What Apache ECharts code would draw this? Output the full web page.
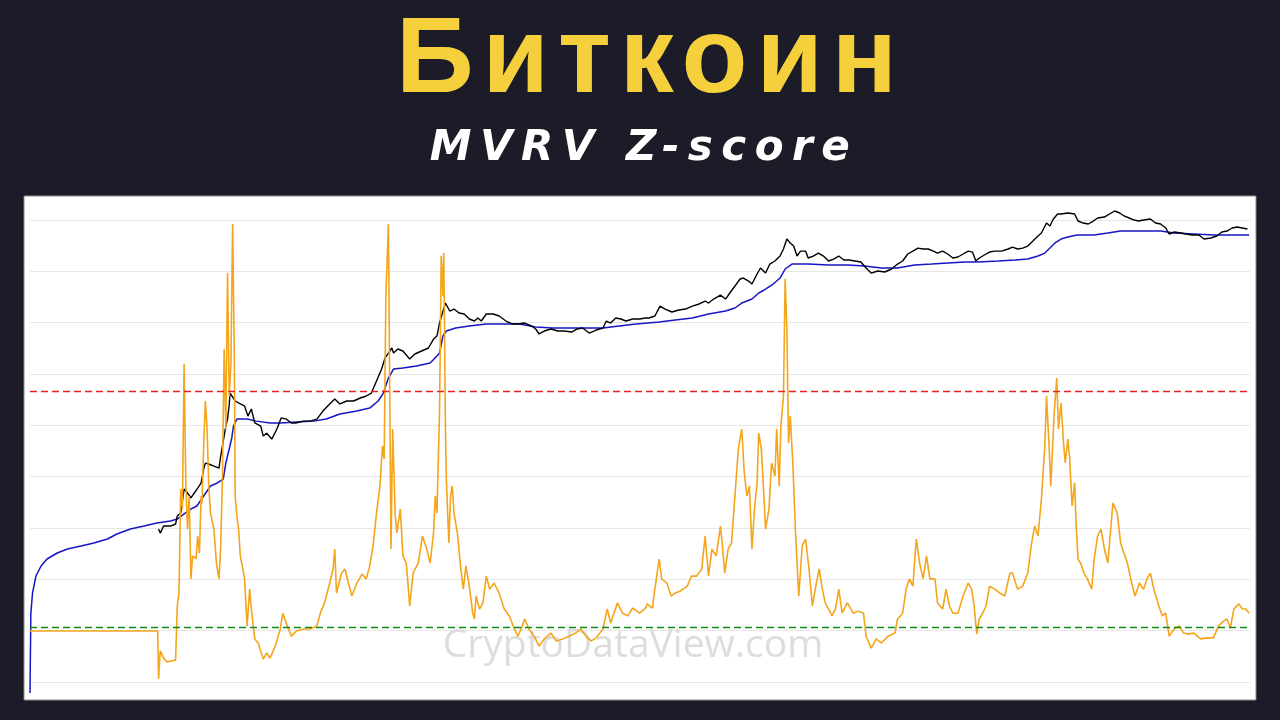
<!DOCTYPE html>
<html>
<head>
<meta charset="utf-8">
<title>Биткоин MVRV Z-score</title>
<script src="https://cdn.jsdelivr.net/npm/echarts@6/dist/echarts.min.js"></script>
<style>
  body { margin: 0; background: #1b1c27; }
  .wrap { position: relative; width: 1280px; height: 720px; overflow: hidden; }
  #chart { position: absolute; left: 0; top: 0; width: 1280px; height: 720px; }
  .head-title {
    position: absolute; left: 0; top: 1px; width: 1280px; text-align: center;
    font-family: "Liberation Sans", Arial, sans-serif; font-weight: bold;
    font-size: 108px; line-height: 108px; letter-spacing: 9px; padding-left: 11px;
    color: #f5d03c;
  }
  .head-sub {
    position: absolute; left: 0; top: 125px; width: 1280px; text-align: center;
    font-family: "DejaVu Sans", Verdana, sans-serif; font-weight: bold; font-style: italic;
    font-size: 42px; line-height: 42px; letter-spacing: 8.5px; padding-left: 4px;
    color: #ffffff;
  }
</style>
</head>
<body>
<div class="wrap">
  <div id="chart"></div>
  <div class="head-title">Биткоин</div>
  <div class="head-sub">MVRV Z-score</div>
</div>
<script>
// MVRV Z-score (decimal year -> z)
const zYears = [
  2009.09, 2010.59, 2010.60, 2010.62, 2010.66, 2010.70, 2010.76, 2010.80, 2010.82, 2010.84,
  2010.86, 2010.88, 2010.90, 2010.92, 2010.94, 2010.96, 2010.98, 2011.00, 2011.04, 2011.06,
  2011.08, 2011.10, 2011.11, 2011.13, 2011.15, 2011.17, 2011.19, 2011.21, 2011.25, 2011.28,
  2011.31, 2011.33, 2011.35, 2011.37, 2011.39, 2011.41, 2011.43, 2011.45, 2011.47, 2011.49,
  2011.50, 2011.52, 2011.54, 2011.56, 2011.59, 2011.61, 2011.64, 2011.67, 2011.69, 2011.73,
  2011.77, 2011.83, 2011.87, 2011.91, 2011.97, 2012.03, 2012.06, 2012.10, 2012.16, 2012.22,
  2012.30, 2012.38, 2012.46, 2012.50, 2012.55, 2012.61, 2012.65, 2012.67, 2012.69, 2012.75,
  2012.79, 2012.83, 2012.87, 2012.93, 2012.99, 2013.04, 2013.08, 2013.12, 2013.16, 2013.20,
  2013.23, 2013.25, 2013.27, 2013.30, 2013.33, 2013.35, 2013.38, 2013.40, 2013.44, 2013.47,
  2013.51, 2013.55, 2013.59, 2013.65, 2013.70, 2013.75, 2013.79, 2013.83, 2013.85, 2013.87,
  2013.90, 2013.92, 2013.94, 2013.95, 2013.97, 2013.98, 2014.01, 2014.03, 2014.05, 2014.07,
  2014.11, 2014.15, 2014.18, 2014.21, 2014.25, 2014.29, 2014.31, 2014.33, 2014.37, 2014.41,
  2014.45, 2014.49, 2014.54, 2014.60, 2014.66, 2014.72, 2014.78, 2014.82, 2014.86, 2014.90,
  2014.95, 2015.01, 2015.07, 2015.13, 2015.21, 2015.27, 2015.35, 2015.42, 2015.50, 2015.56,
  2015.62, 2015.68, 2015.74, 2015.82, 2015.87, 2015.91, 2015.99, 2016.05, 2016.11, 2016.17,
  2016.25, 2016.32, 2016.34, 2016.40, 2016.43, 2016.48, 2016.51, 2016.57, 2016.62, 2016.67,
  2016.73, 2016.81, 2016.86, 2016.92, 2016.98, 2017.02, 2017.06, 2017.10, 2017.15, 2017.20,
  2017.22, 2017.25, 2017.29, 2017.33, 2017.37, 2017.41, 2017.45, 2017.48, 2017.51, 2017.54,
  2017.57, 2017.60, 2017.63, 2017.65, 2017.68, 2017.71, 2017.73, 2017.77, 2017.80, 2017.84,
  2017.86, 2017.89, 2017.91, 2017.94, 2017.96, 2017.98, 2018.00, 2018.02, 2018.05, 2018.08,
  2018.10, 2018.12, 2018.16, 2018.20, 2018.24, 2018.28, 2018.32, 2018.36, 2018.39, 2018.43,
  2018.47, 2018.51, 2018.55, 2018.59, 2018.63, 2018.69, 2018.76, 2018.82, 2018.88, 2018.91,
  2018.97, 2019.03, 2019.09, 2019.17, 2019.25, 2019.28, 2019.34, 2019.38, 2019.42, 2019.46,
  2019.50, 2019.54, 2019.58, 2019.62, 2019.66, 2019.72, 2019.75, 2019.81, 2019.85, 2019.89,
  2019.93, 2019.99, 2020.05, 2020.11, 2020.15, 2020.18, 2020.21, 2020.24, 2020.28, 2020.32,
  2020.36, 2020.42, 2020.48, 2020.54, 2020.60, 2020.63, 2020.69, 2020.75, 2020.81, 2020.85,
  2020.89, 2020.93, 2020.97, 2021.01, 2021.03, 2021.06, 2021.08, 2021.12, 2021.15, 2021.17,
  2021.20, 2021.23, 2021.25, 2021.28, 2021.30, 2021.33, 2021.36, 2021.38, 2021.40, 2021.43,
  2021.47, 2021.51, 2021.56, 2021.59, 2021.63, 2021.67, 2021.71, 2021.75, 2021.79, 2021.81,
  2021.86, 2021.90, 2021.94, 2021.98, 2022.03, 2022.07, 2022.12, 2022.17, 2022.21, 2022.25,
  2022.29, 2022.35, 2022.39, 2022.43, 2022.47, 2022.53, 2022.59, 2022.64, 2022.70, 2022.76,
  2022.84, 2022.92, 2022.99, 2023.05, 2023.11, 2023.15, 2023.19, 2023.23, 2023.29, 2023.33,
  2023.37, 2023.41
];
const zScore = [
  0, 0, -1.40, -0.58, -0.79, -0.90, -0.87, -0.85, 0.73, 1.11,
  4.14, 3.56, 7.79, 4.32, 2.97, 3.94, 1.52, 2.19, 2.10, 2.77,
  2.27, 3.94, 3.73, 5.40, 6.71, 5.89, 4.23, 3.44, 2.97, 1.98,
  1.52, 2.48, 4.43, 8.22, 5.89, 10.44, 6.85, 7.82, 11.87, 8.00,
  3.94, 3.35, 2.97, 2.19, 1.81, 1.52, 0.15, 1.22, 0.64, -0.23,
  -0.35, -0.82, -0.64, -0.79, -0.44, 0.06, 0.52, 0.23, -0.15, 0.00,
  0.06, 0.06, 0.15, 0.52, 0.82, 1.40, 1.81, 2.39, 1.11, 1.69,
  1.81, 1.40, 1.02, 1.40, 1.66, 1.52, 1.90, 2.48, 3.44, 4.23,
  5.40, 5.02, 9.77, 11.87, 2.39, 5.89, 3.35, 2.86, 3.56, 2.19,
  1.98, 0.73, 1.69, 1.98, 2.77, 2.39, 1.98, 2.86, 3.94, 3.44,
  6.36, 10.94, 9.77, 11.02, 5.89, 4.43, 2.57, 3.94, 4.23, 3.44,
  2.86, 1.81, 1.22, 1.90, 1.31, 0.52, 0.35, 1.02, 0.64, 0.82,
  1.60, 1.22, 1.40, 1.11, 0.64, 0.44, 0.06, -0.15, 0.06, 0.35,
  0.06, -0.15, -0.44, -0.23, -0.06, -0.29, -0.23, -0.15, -0.06, 0.06,
  -0.15, -0.29, -0.20, 0.06, 0.64, 0.23, 0.82, 0.52, 0.44, 0.67,
  0.52, 0.67, 0.79, 0.67, 1.22, 2.10, 1.52, 1.40, 1.02, 1.11,
  1.17, 1.31, 1.60, 1.60, 1.81, 2.77, 1.60, 2.39, 2.19, 3.06,
  2.57, 1.69, 2.39, 2.57, 3.94, 5.31, 5.89, 4.61, 3.94, 4.23,
  2.39, 3.56, 4.32, 5.77, 5.31, 3.94, 2.97, 3.56, 4.90, 4.52,
  5.89, 4.23, 5.98, 6.85, 10.27, 8.81, 5.48, 6.27, 4.90, 2.97,
  1.98, 1.02, 2.48, 2.68, 1.81, 0.73, 1.31, 1.81, 1.31, 0.82,
  0.64, 0.44, 0.64, 1.22, 0.52, 0.82, 0.52, 0.58, 0.52, -0.15,
  -0.50, -0.23, -0.35, -0.15, -0.06, 0.35, 0.52, 1.22, 1.52, 1.31,
  2.68, 1.98, 1.52, 2.19, 1.52, 1.52, 0.82, 0.64, 1.22, 0.73,
  0.52, 0.52, 1.02, 1.40, 1.22, 0.73, -0.09, 0.35, 0.52, 0.73,
  1.31, 1.22, 1.11, 1.02, 1.69, 1.69, 1.22, 1.31, 1.69, 2.48,
  3.06, 2.77, 3.85, 5.40, 6.85, 5.40, 4.23, 6.36, 7.38, 5.89,
  6.65, 5.48, 4.90, 5.60, 5.10, 3.65, 4.32, 2.97, 2.10, 1.98,
  1.69, 1.52, 1.22, 2.10, 2.77, 2.97, 2.39, 1.98, 3.15, 3.73,
  3.44, 2.57, 2.27, 1.98, 1.40, 1.02, 1.40, 1.22, 1.52, 1.69,
  1.22, 0.73, 0.44, 0.52, -0.15, 0.06, 0.15, -0.06, -0.09, -0.06,
  -0.23, -0.20, -0.20, 0.15, 0.29, 0.35, 0.09, 0.64, 0.79, 0.64,
  0.64, 0.52
];

// market cap, USD millions
const capYears = [
  2010.60, 2010.62, 2010.66, 2010.74, 2010.80, 2010.82, 2010.86, 2010.90, 2010.94, 2010.98,
  2011.02, 2011.06, 2011.10, 2011.13, 2011.15, 2011.19, 2011.25, 2011.31, 2011.33, 2011.37,
  2011.39, 2011.41, 2011.43, 2011.44, 2011.46, 2011.50, 2011.56, 2011.61, 2011.65, 2011.69,
  2011.73, 2011.80, 2011.83, 2011.87, 2011.93, 2011.99, 2012.04, 2012.10, 2012.16, 2012.22,
  2012.30, 2012.38, 2012.46, 2012.53, 2012.61, 2012.67, 2012.73, 2012.81, 2012.89, 2012.97,
  2013.04, 2013.10, 2013.16, 2013.22, 2013.26, 2013.30, 2013.34, 2013.36, 2013.41, 2013.47,
  2013.55, 2013.61, 2013.69, 2013.77, 2013.83, 2013.87, 2013.90, 2013.97, 2014.02, 2014.07,
  2014.13, 2014.19, 2014.25, 2014.31, 2014.35, 2014.39, 2014.45, 2014.53, 2014.60, 2014.68,
  2014.76, 2014.82, 2014.90, 2014.98, 2015.03, 2015.07, 2015.13, 2015.21, 2015.29, 2015.37,
  2015.45, 2015.52, 2015.58, 2015.66, 2015.74, 2015.82, 2015.86, 2015.91, 2015.97, 2016.03,
  2016.09, 2016.17, 2016.25, 2016.32, 2016.36, 2016.43, 2016.49, 2016.55, 2016.63, 2016.71,
  2016.79, 2016.87, 2016.95, 2017.02, 2017.06, 2017.12, 2017.20, 2017.26, 2017.31, 2017.37,
  2017.43, 2017.47, 2017.53, 2017.57, 2017.63, 2017.67, 2017.73, 2017.78, 2017.84, 2017.90,
  2017.94, 2017.98, 2018.02, 2018.06, 2018.10, 2018.14, 2018.20, 2018.23, 2018.29, 2018.35,
  2018.41, 2018.47, 2018.53, 2018.59, 2018.65, 2018.71, 2018.78, 2018.85, 2018.91, 2018.97,
  2019.05, 2019.13, 2019.21, 2019.28, 2019.34, 2019.40, 2019.46, 2019.52, 2019.58, 2019.64,
  2019.70, 2019.75, 2019.81, 2019.87, 2019.93, 2019.99, 2020.05, 2020.11, 2020.16, 2020.20,
  2020.24, 2020.30, 2020.36, 2020.42, 2020.50, 2020.58, 2020.63, 2020.69, 2020.75, 2020.81,
  2020.87, 2020.93, 2020.97, 2021.03, 2021.07, 2021.11, 2021.16, 2021.20, 2021.28, 2021.36,
  2021.40, 2021.46, 2021.52, 2021.58, 2021.63, 2021.71, 2021.77, 2021.83, 2021.89, 2021.94,
  2022.00, 2022.06, 2022.11, 2022.17, 2022.25, 2022.31, 2022.37, 2022.43, 2022.47, 2022.53,
  2022.61, 2022.67, 2022.74, 2022.82, 2022.88, 2022.96, 2023.03, 2023.09, 2023.15, 2023.21,
  2023.27, 2023.33, 2023.39
];
const marketCap = [
  0.238, 0.195, 0.275, 0.275, 0.304, 0.45, 0.52, 1.69, 1.39, 1.09,
  1.39, 1.77, 2.27, 4.5, 6.0, 5.75, 5.2, 4.7, 8.5, 22.6,
  37, 52, 104, 186, 177, 126, 109, 99, 60, 85,
  43, 37, 22.6, 26, 19.5, 32, 55, 52, 43, 43,
  47, 47, 52, 77, 109, 139, 109, 126, 126, 146,
  161, 186, 336, 604, 1035, 1320, 1690, 1320, 1610, 1460,
  986, 1260, 1460, 1690, 2620, 3040, 5740, 15300, 10350, 11400,
  9380, 8930, 7000, 6340, 7350, 6340, 8930, 8930, 8110, 6340,
  5470, 5470, 5740, 4970, 4290, 3360, 3880, 4290, 3880, 3880,
  3700, 4290, 4500, 3520, 4080, 4500, 6340, 5740, 7350, 7000,
  6340, 7000, 7000, 7350, 7350, 8110, 13200, 11400, 9860, 10900,
  11400, 13200, 14600, 16900, 15300, 18600, 22600, 18600, 25000, 35200,
  49700, 52100, 45000, 38800, 63400, 85100, 66500, 103500, 120000, 153000,
  216000, 352000, 290000, 250000, 153000, 195000, 195000, 139000, 153000, 177000,
  153000, 120000, 132000, 153000, 126000, 126000, 120000, 114000, 85100, 66500,
  73500, 70000, 81100, 103500, 120000, 169000, 195000, 226000, 216000, 216000,
  195000, 177000, 195000, 169000, 139000, 146000, 169000, 195000, 186000, 120000,
  139000, 161000, 186000, 195000, 195000, 216000, 238000, 216000, 226000, 250000,
  319000, 408000, 472000, 771000, 665000, 938000, 1200000, 1200000, 1260000, 1200000,
  851000, 771000, 735000, 851000, 986000, 1035000, 1200000, 1390000, 1260000, 1090000,
  986000, 893000, 851000, 893000, 938000, 771000, 735000, 604000, 450000, 497000,
  472000, 450000, 429000, 429000, 352000, 370000, 408000, 497000, 521000, 604000,
  634000, 604000, 575000
];

// realized cap, USD millions
const realizedYears = [
  2009.09, 2009.10, 2009.12, 2009.16, 2009.22, 2009.29, 2009.41, 2009.53, 2009.69, 2009.84,
  2010.00, 2010.11, 2010.27, 2010.43, 2010.58, 2010.74, 2010.82, 2010.90, 2010.98, 2011.05,
  2011.13, 2011.21, 2011.29, 2011.36, 2011.39, 2011.43, 2011.46, 2011.48, 2011.52, 2011.64,
  2011.75, 2011.91, 2012.03, 2012.22, 2012.42, 2012.57, 2012.73, 2012.93, 2013.08, 2013.18,
  2013.24, 2013.30, 2013.36, 2013.47, 2013.63, 2013.79, 2013.87, 2013.90, 2013.94, 2013.98,
  2014.09, 2014.25, 2014.45, 2014.64, 2014.84, 2015.03, 2015.23, 2015.42, 2015.62, 2015.82,
  2016.01, 2016.21, 2016.48, 2016.67, 2016.87, 2017.06, 2017.26, 2017.37, 2017.45, 2017.57,
  2017.65, 2017.73, 2017.82, 2017.90, 2017.96, 2018.04, 2018.23, 2018.47, 2018.70, 2018.89,
  2019.09, 2019.28, 2019.48, 2019.68, 2019.87, 2020.07, 2020.22, 2020.46, 2020.66, 2020.81,
  2020.93, 2021.01, 2021.07, 2021.13, 2021.20, 2021.28, 2021.39, 2021.59, 2021.75, 2021.90,
  2022.14, 2022.37, 2022.53, 2022.76, 2023.00, 2023.23, 2023.41
];
const realizedCap = [
  0.000077, 0.0039, 0.0104, 0.0238, 0.0388, 0.0547, 0.0735, 0.0893, 0.1035, 0.12,
  0.146, 0.186, 0.238, 0.275, 0.319, 0.352, 0.388, 0.497, 0.634, 0.735,
  1.2, 1.96, 2.27, 2.75, 6.0, 12.0, 20.6, 37, 52, 52,
  47, 43, 43, 45, 47, 52, 66.5, 77, 89, 126,
  186, 388, 604, 634, 700, 811, 1140, 1320, 3040, 3880,
  4500, 4970, 5470, 5470, 5470, 4720, 4500, 4500, 4500, 4500,
  4970, 5470, 6040, 6650, 7350, 8930, 10350, 12000, 15300, 18600,
  25000, 30400, 38800, 52100, 81100, 103500, 103500, 98600, 98600, 93800,
  85100, 85100, 98600, 103500, 108700, 114000, 114000, 120000, 126000, 132000,
  153000, 177000, 226000, 290000, 352000, 388000, 429000, 429000, 472000, 521000,
  521000, 521000, 472000, 450000, 429000, 429000, 429000
];

const topLine = 7;      // red zone
const bottomLine = 0.1; // green zone

const zip = (xs, ys) => xs.map((x, i) => [x, ys[i]]);

const chart = echarts.init(document.getElementById('chart'), null, { renderer: 'canvas' });

const option = {
  backgroundColor: '#1b1c27',
  animation: false,
  grid: [
    // white panel
    { left: 24, right: 24, top: 196, bottom: 20, show: true, backgroundColor: '#ffffff', borderColor: '#8a8a8a', borderWidth: 1 },
    // horizontal guide lines
    { left: 30, right: 30, top: 220, bottom: 38 },
    // data
    { left: 30, right: 30, top: 196, bottom: 20 }
  ],
  xAxis: [
    { gridIndex: 0, type: 'value', min: 0, max: 1, show: false },
    { gridIndex: 1, type: 'value', min: 0, max: 1, show: false },
    { gridIndex: 2, type: 'value', min: 2009.09, max: 2023.42, show: false }
  ],
  yAxis: [
    { gridIndex: 0, type: 'value', min: 0, max: 1, show: false },
    {
      gridIndex: 1, type: 'value', min: 0, max: 9, interval: 1,
      axisLine: { show: false },
      axisTick: { show: false },
      axisLabel: { show: false },
      splitLine: { show: true, lineStyle: { color: '#e6e6e6', width: 1 } }
    },
    { gridIndex: 2, type: 'value', min: -2.012, max: 12.686, show: false },
    { gridIndex: 2, type: 'log', min: 5.47e-5, max: 2.9e6, show: false }
  ],
  graphic: [
    {
      type: 'text',
      x: 633,
      y: 646,
      z: 1,
      silent: true,
      style: {
        text: 'CryptoDataView.com',
        fill: '#dddddd',
        font: '39px "Open Sans", "Liberation Sans", sans-serif',
        align: 'center',
        verticalAlign: 'middle'
      }
    }
  ],
  series: [
    {
      name: 'Realized Cap',
      type: 'line',
      xAxisIndex: 2,
      yAxisIndex: 3,
      data: zip(realizedYears, realizedCap),
      showSymbol: false,
      lineStyle: { color: '#1616c4', width: 1.5 },
      z: 2
    },
    {
      name: 'Market Cap',
      type: 'line',
      xAxisIndex: 2,
      yAxisIndex: 3,
      data: zip(capYears, marketCap),
      showSymbol: false,
      lineStyle: { color: '#000000', width: 1.4 },
      z: 3
    },
    {
      name: 'MVRV Z-score',
      type: 'line',
      xAxisIndex: 2,
      yAxisIndex: 2,
      data: zip(zYears, zScore),
      showSymbol: false,
      lineStyle: { color: '#f5a51c', width: 1.6 },
      z: 4,
      markLine: {
        silent: true,
        symbol: 'none',
        label: { show: false },
        data: [
          { yAxis: topLine, lineStyle: { color: '#e8201a', type: [7, 4], width: 1.4 } },
          { yAxis: bottomLine, lineStyle: { color: '#0f8a12', type: [7, 4], width: 1.4 } }
        ]
      }
    }
  ]
};

chart.setOption(option);
</script>
</body>
</html>
